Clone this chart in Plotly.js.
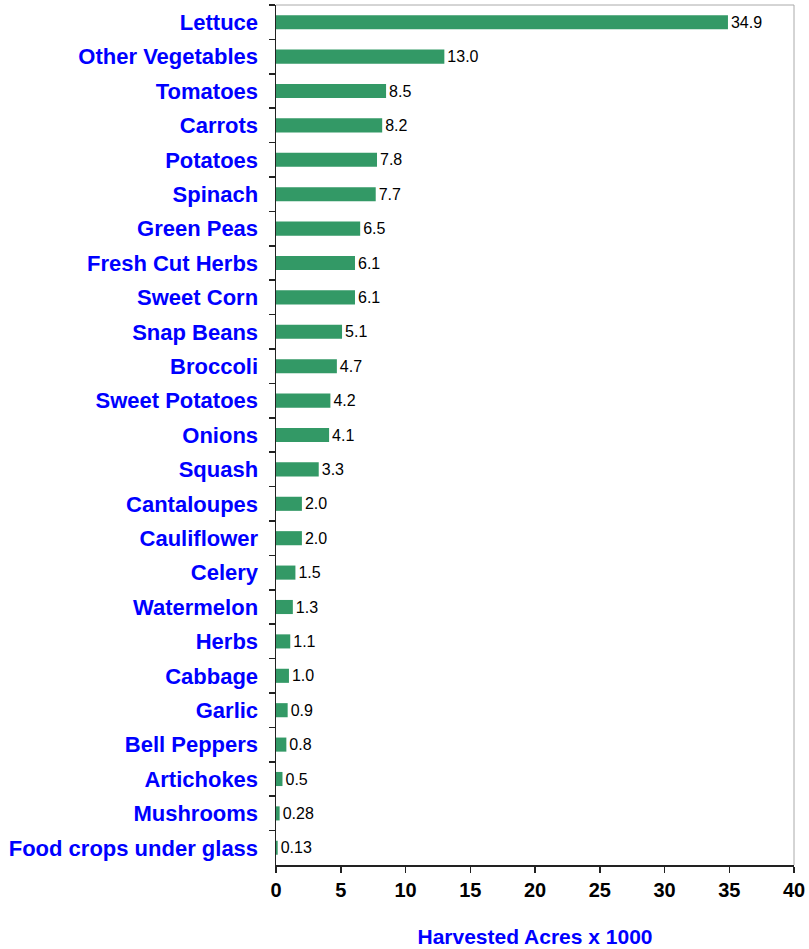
<!DOCTYPE html>
<html>
<head>
<meta charset="utf-8">
<script src="https://cdn.plot.ly/plotly-3.0.1.min.js"></script>
<style>html,body{margin:0;padding:0;background:#fff;}#chart{width:809px;height:949px;}</style>
</head>
<body>
<div id="chart"></div>
<script>
var categories = ["Lettuce","Other Vegetables","Tomatoes","Carrots","Potatoes","Spinach","Green Peas","Fresh Cut Herbs","Sweet Corn","Snap Beans","Broccoli","Sweet Potatoes","Onions","Squash","Cantaloupes","Cauliflower","Celery","Watermelon","Herbs","Cabbage","Garlic","Bell Peppers","Artichokes","Mushrooms","Food crops under glass"];
var values = [34.9,13.0,8.5,8.2,7.8,7.7,6.5,6.1,6.1,5.1,4.7,4.2,4.1,3.3,2.0,2.0,1.5,1.3,1.1,1.0,0.9,0.8,0.5,0.28,0.13];
var valueLabels = ["34.9","13.0","8.5","8.2","7.8","7.7","6.5","6.1","6.1","5.1","4.7","4.2","4.1","3.3","2.0","2.0","1.5","1.3","1.1","1.0","0.9","0.8","0.5","0.28","0.13"];
var xTicks = [0,5,10,15,20,25,30,35,40];

var trace = {
  type: "bar",
  orientation: "h",
  y: categories,
  x: values,
  text: valueLabels,
  textposition: "outside",
  constraintext: "none",
  cliponaxis: false,
  textfont: {family: "Liberation Sans, Arial, sans-serif", size: 16, color: "#000"},
  marker: {color: "#339966", line: {width: 0}},
  hoverinfo: "none"
};

var layout = {
  width: 809, height: 949,
  margin: {l: 276, r: 15, t: 5, b: 84},
  paper_bgcolor: "#fff", plot_bgcolor: "#fff",
  showlegend: false,
  bargap: 0.59,
  font: {family: "Liberation Sans, Arial, sans-serif"},
  xaxis: {
    range: [0, 40],
    tickvals: xTicks,
    ticktext: xTicks.map(String),
    ticks: "outside", ticklen: 6, tickwidth: 1.5, tickcolor: "#222",
    showline: true, linecolor: "#222", linewidth: 1.5,
    showgrid: false, zeroline: false,
    tickfont: {size: 20, color: "#000", family: "Liberation Sans, Arial, sans-serif", weight: "bold"},
    title: {text: "Harvested Acres x 1000", standoff: 30, font: {size: 21, color: "#0000ff", family: "Liberation Sans, Arial, sans-serif", weight: "bold"}}
  },
  yaxis: {
    type: "category",
    autorange: "reversed",
    tickson: "boundaries",
    ticks: "outside", ticklen: 6, tickwidth: 1.5, tickcolor: "#222",
    showline: true, linecolor: "#222", linewidth: 1.5,
    showgrid: false, zeroline: false,
    ticklabelstandoff: 12,
    tickfont: {size: 22, color: "#0000ff", family: "Liberation Sans, Arial, sans-serif", weight: "bold"}
  },
  shapes: [
    {type: "line", xref: "paper", yref: "paper", x0: 0, x1: 1, y0: 1, y1: 1, line: {color: "#aaaaaa", width: 1}},
    {type: "line", xref: "paper", yref: "paper", x0: 1, x1: 1, y0: 0, y1: 1, line: {color: "#aaaaaa", width: 1}}
  ]
};

Plotly.newPlot("chart", [trace], layout, {displayModeBar: false, staticPlot: true});
</script>
</body>
</html>
